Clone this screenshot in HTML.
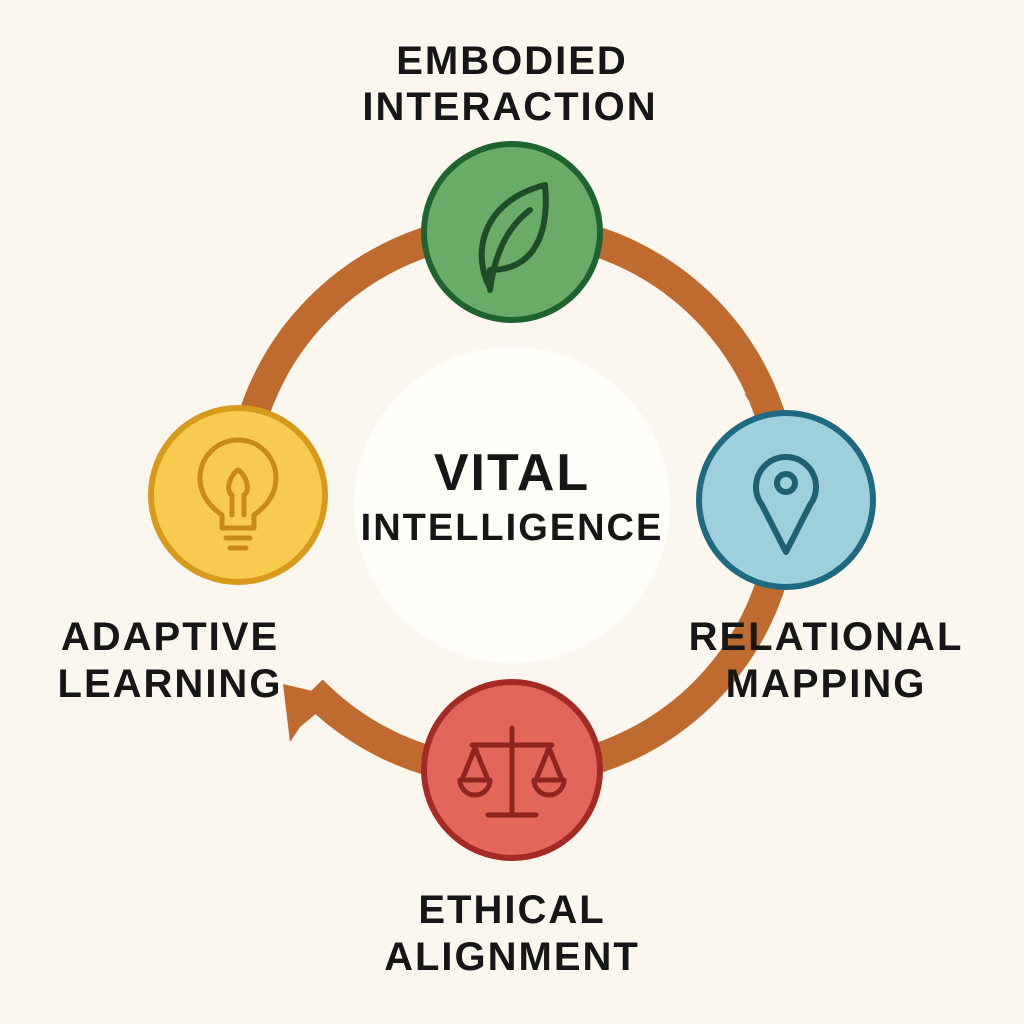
<!DOCTYPE html>
<html><head><meta charset="utf-8"><style>
html,body{margin:0;padding:0;background:#fbf7ee;}
svg{display:block}
text{font-family:"Liberation Sans",sans-serif;font-weight:bold;fill:#161616;letter-spacing:2px}
</style></head><body>
<svg width="1024" height="1024" viewBox="0 0 1024 1024">
<rect width="1024" height="1024" fill="#fbf7ee"/>
<g fill="none" stroke="#bf6a2e" stroke-width="30">
<path d="M240 500 A272 272 0 0 1 512 228"/>
<path d="M512 228 A272 272 0 0 1 777 440"/>
<path d="M784 500 A272 272 0 0 1 512 772"/>
<path d="M512 772 A272 272 0 0 1 312 690"/>
</g>
<polygon points="744,393 790,425 760,418" fill="#bf6a2e"/>
<polygon points="283,684 342,698 326,706 318,712 300,727 290,742" fill="#bf6a2e"/>
<circle cx="512" cy="505" r="158" fill="#fffef9"/>
<circle cx="512" cy="232" r="88" fill="#6aab67" stroke="#1f6330" stroke-width="6"/>
<circle cx="786" cy="500" r="87" fill="#9dcfdc" stroke="#1f6a80" stroke-width="6"/>
<circle cx="512" cy="770" r="88" fill="#e2665a" stroke="#a52a25" stroke-width="6"/>
<circle cx="238" cy="495" r="87" fill="#f8ca50" stroke="#d79a1a" stroke-width="6"/>
<g fill="none" stroke="#1f4d2a" stroke-width="6" stroke-linecap="round" stroke-linejoin="round">
<path d="M490 288 C470 250 485 200 545 185 C550 240 530 270 490 270 Z"/>
<path d="M490 290 C495 250 510 225 530 210"/>
</g>
<g fill="none" stroke="#1f5f72" stroke-width="6" stroke-linejoin="round">
<path d="M786 552 L762 505 A30 30 0 1 1 810 505 Z"/>
<circle cx="786" cy="483" r="9"/>
</g>
<g fill="none" stroke="#8f2520" stroke-width="5" stroke-linecap="round" stroke-linejoin="round">
<line x1="512" y1="728" x2="512" y2="815"/>
<line x1="472" y1="745" x2="552" y2="745"/>
<line x1="488" y1="815" x2="536" y2="815"/>
<path d="M475 748 L462 780 M475 748 L488 780 M460 780 A15 15 0 0 0 490 780 Z"/>
<path d="M549 748 L536 780 M549 748 L562 780 M534 780 A15 15 0 0 0 564 780 Z"/>
</g>
<g fill="none" stroke="#c98a16" stroke-width="5" stroke-linecap="round" stroke-linejoin="round">
<path d="M222 528 L222 515 C205 503 200 490 200 478 A38 38 0 0 1 276 478 C276 490 271 503 254 515 L254 528 Z"/>
<path d="M226 538 H250 M230 548 H246"/>
<path d="M232 515 L232 495 M244 515 L244 495 M232 495 C225 490 230 475 238 470 C246 475 251 490 244 495"/>
</g>
<g font-size="40" text-anchor="middle">
<text x="512" y="74">EMBODIED</text>
<text x="510" y="120">INTERACTION</text>
<text x="170" y="650">ADAPTIVE</text>
<text x="170" y="697">LEARNING</text>
<text x="826" y="650">RELATIONAL</text>
<text x="826" y="697">MAPPING</text>
<text x="512" y="923">ETHICAL</text>
<text x="512" y="970">ALIGNMENT</text>
</g>
<text x="512" y="490" font-size="52" text-anchor="middle">VITAL</text>
<text x="512" y="540" font-size="38" text-anchor="middle">INTELLIGENCE</text>
</svg>
</body></html>
